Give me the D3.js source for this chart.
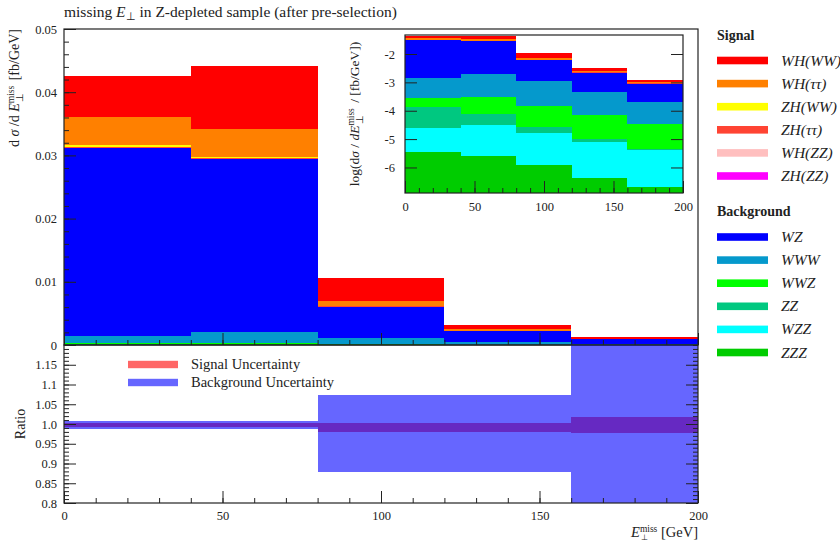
<!DOCTYPE html>
<html>
<head>
<meta charset="utf-8">
<script src="https://cdn.jsdelivr.net/npm/d3@7"></script>
<style>
body { margin: 0; background: #fff; }
svg { font-family: "Liberation Serif", serif; }
</style>
</head>
<body>
<div id="chart"></div>
<script>
// bins of missing E_T [GeV]
var binLo = [0, 40, 80, 120, 160];
var binHi = [40, 80, 120, 160, 200];

// signal, d sigma / dE [fb/GeV]
var WH_WW     = [0.0066, 0.00997, 0.00359, 0.000625, 0.0002];
var WH_tautau = [0.00437, 0.00437, 0.00075, 0.0002, 0.00006];
var ZH_WW     = [0.00035, 0.00025, 0.00008, 0.00004, 0.00002];
var ZH_tautau = [0.00012, 0.0001, 0.00004, 0.00002, 0.00001];
var WH_ZZ     = [0.00004, 0.00004, 0.00002, 0.00001, 0.000006];
var ZH_ZZ     = [0.00002, 0.00002, 0.00001, 0.000005, 0.000003];

// background
var WZ  = [0.0297, 0.02735, 0.00493, 0.00176, 0.00069];
var WWW = [0.00111, 0.00175, 0.00098, 0.000372, 0.000177];
var WWZ = [0.000158, 0.000221, 0.000122, 0.000058, 0.0000286];
var ZZ  = [0.000108, 0.000045, 0.00001, 0.0000024, 0.0000004];
var WZZ = [0.0000205, 0.0000284, 0.0000148, 0.0000072, 0.0000038];
var ZZZ = [0.0000035, 0.0000026, 0.0000012, 0.00000042, 0.00000021];

// ratio panel bands
var sigLo = [0.9924, 0.9924, 0.9805, 0.9805, 0.976];
var sigHi = [1.0033, 1.0033, 1.0033, 1.0033, 1.0177];
var bkgLo = [0.988, 0.988, 0.8775, 0.8775, 0.7];
var bkgHi = [1.0084, 1.0084, 1.074, 1.074, 1.3];

// tick labels
var yTicks = [0, 0.01, 0.02, 0.03, 0.04, 0.05];
var yTickLabels = ["0", "0.01", "0.02", "0.03", "0.04", "0.05"];
var rTicks = [0.8, 0.85, 0.9, 0.95, 1.0, 1.05, 1.1, 1.15];
var rTickLabels = ["0.8", "0.85", "0.9", "0.95", "1.0", "1.05", "1.1", "1.15"];
var xTicks = [0, 50, 100, 150, 200];
var logTicks = [-6, -5, -4, -3, -2];

var signal = [
  { key: "WH_WW", label: "WH(WW)", color: "#ff0000", values: WH_WW },
  { key: "WH_tautau", label: "WH(ττ)", color: "#ff8000", values: WH_tautau },
  { key: "ZH_WW", label: "ZH(WW)", color: "#ffff00", values: ZH_WW },
  { key: "ZH_tautau", label: "ZH(ττ)", color: "#ff4433", values: ZH_tautau },
  { key: "WH_ZZ", label: "WH(ZZ)", color: "#ffbfbf", values: WH_ZZ },
  { key: "ZH_ZZ", label: "ZH(ZZ)", color: "#ff00ff", values: ZH_ZZ }
];
var background = [
  { key: "WZ", label: "WZ", color: "#0000ff", values: WZ },
  { key: "WWW", label: "WWW", color: "#0599cc", values: WWW },
  { key: "WWZ", label: "WWZ", color: "#00ff00", values: WWZ },
  { key: "ZZ", label: "ZZ", color: "#00c880", values: ZZ },
  { key: "WZZ", label: "WZZ", color: "#00ffff", values: WZZ },
  { key: "ZZZ", label: "ZZZ", color: "#00cc00", values: ZZZ }
];

// stacking goes bottom to top, reverse of the legend
var all = background.concat(signal);
var order = background.slice().reverse().concat(signal.slice().reverse());
var color = {};
all.forEach(function (p) { color[p.key] = p.color; });

var rows = binLo.map(function (lo, i) {
  var r = { lo: lo, hi: binHi[i] };
  all.forEach(function (p) { r[p.key] = p.values[i]; });
  return r;
});
var layers = d3.stack().keys(order.map(function (p) { return p.key; }))(rows);

var svg = d3.select("#chart").append("svg")
  .attr("width", 840)
  .attr("height", 542);

var ink = "#222";

// scales
var x = d3.scaleLinear().domain([0, 200]).range([64, 698]);
var y = d3.scaleLinear().domain([0, 0.05]).range([345, 29]);
var yr = d3.scaleLinear().domain([0.8, 1.2]).range([503, 345]);
var xi = d3.scaleLinear().domain([0, 200]).range([405, 683]);
var yi = d3.scaleLinear().domain([-6.9, -1.33]).range([193, 35]);

function richText(sel, parts) {
  parts.forEach(function (p) {
    var t = sel.append("tspan").text(p.t);
    if (p.it) t.style("font-style", "italic");
    if (p.size) t.attr("font-size", p.size);
    if (p.dx) t.attr("dx", p.dx);
    if (p.dy) t.attr("dy", p.dy);
  });
}

function styleAxis(g, size) {
  g.attr("color", ink).attr("font-family", "Liberation Serif").attr("font-size", size || 12);
  g.select(".domain").remove();
  g.selectAll("text").attr("fill", ink);
}

// title
richText(svg.append("text").attr("x", 64).attr("y", 17).attr("font-size", 15.5).attr("fill", ink), [
  { t: "missing " }, { t: "E", it: true }, { t: "⊥", size: 10.5, dy: 3 },
  { t: " in Z-depleted sample (after pre-selection)", dy: -3 }
]);

// ---- main panel
var main = svg.append("g").attr("shape-rendering", "crispEdges");
layers.forEach(function (layer) {
  main.selectAll(null)
    .data(layer)
    .enter().append("rect")
    .attr("x", function (d) { return x(d.data.lo); })
    .attr("width", function (d) { return x(d.data.hi) - x(d.data.lo); })
    .attr("y", function (d) { return y(d[1]); })
    .attr("height", function (d) { return y(d[0]) - y(d[1]); })
    .attr("fill", color[layer.key]);
});

svg.append("g").attr("transform", "translate(64,0)")
  .call(d3.axisLeft(y).tickValues(yTicks).tickSizeInner(-12).tickSizeOuter(0).tickPadding(7)
    .tickFormat(function (d, i) { return yTickLabels[i]; }))
  .call(styleAxis, 12.5);
svg.append("g").attr("transform", "translate(64,0)")
  .call(d3.axisLeft(y).tickValues(d3.range(0, 0.0501, 0.002)).tickSize(-5).tickFormat(""))
  .call(styleAxis);
svg.append("g").attr("transform", "translate(0,345)")
  .call(d3.axisBottom(x).tickValues(xTicks).tickSize(-12).tickFormat(""))
  .call(styleAxis);
svg.append("g").attr("transform", "translate(0,345)")
  .call(d3.axisBottom(x).tickValues(d3.range(0, 201, 10)).tickSize(-5).tickFormat(""))
  .call(styleAxis);

svg.append("rect").attr("x", 64).attr("y", 29).attr("width", 634).attr("height", 316)
  .attr("fill", "none").attr("stroke", ink).attr("stroke-width", 1.2);

richText(svg.append("text").attr("transform", "translate(19,29) rotate(-90)")
  .attr("text-anchor", "end").attr("font-size", 14).attr("fill", ink), [
  { t: "d " }, { t: "σ", it: true }, { t: " /d " }, { t: "E", it: true },
  { t: "miss", size: 9.5, dy: -5 }, { t: "⊥", size: 9.5, dx: -16, dy: 9 },
  { t: " [fb/GeV]", dx: 9, dy: -4 }
]);

// ---- inset (log scale)
svg.append("clipPath").attr("id", "inset-clip").append("rect")
  .attr("x", 405).attr("y", 35).attr("width", 278).attr("height", 158);
var inset = svg.append("g").attr("clip-path", "url(#inset-clip)").attr("shape-rendering", "crispEdges");
layers.forEach(function (layer, li) {
  inset.selectAll(null)
    .data(layer)
    .enter().append("rect")
    .attr("x", function (d) { return xi(d.data.lo); })
    .attr("width", function (d) { return xi(d.data.hi) - xi(d.data.lo); })
    .attr("y", function (d) { return yi(Math.log10(d[1])); })
    .attr("height", function (d) {
      var bottom = li === 0 ? 193 : yi(Math.log10(d[0]));
      return Math.max(0, bottom - yi(Math.log10(d[1])));
    })
    .attr("fill", color[layer.key]);
});

svg.append("g").attr("transform", "translate(405,0)")
  .call(d3.axisLeft(yi).tickValues(logTicks).tickSizeInner(-12).tickSizeOuter(0).tickPadding(10)
    .tickFormat(function (d) { return "-" + Math.abs(d); }))
  .call(styleAxis, 12.5);
svg.append("g").attr("transform", "translate(683,0)")
  .call(d3.axisRight(yi).tickValues(logTicks).tickSize(-12).tickFormat(""))
  .call(styleAxis);
svg.append("g").attr("transform", "translate(0,193)")
  .call(d3.axisBottom(xi).tickValues(xTicks).tickSizeInner(-12).tickSizeOuter(0).tickPadding(9))
  .call(styleAxis, 12.5);
svg.append("g").attr("transform", "translate(0,193)")
  .call(d3.axisBottom(xi).tickValues(d3.range(0, 201, 10)).tickSize(-5).tickFormat(""))
  .call(styleAxis);
svg.append("rect").attr("x", 405).attr("y", 35).attr("width", 278).attr("height", 158)
  .attr("fill", "none").attr("stroke", ink).attr("stroke-width", 1.2);

richText(svg.append("text").attr("transform", "translate(359,114) rotate(-90)")
  .attr("text-anchor", "middle").attr("font-size", 13.5).attr("fill", ink), [
  { t: "log(d" }, { t: "σ", it: true }, { t: " / " }, { t: "dE", it: true },
  { t: "miss", size: 9.5, dy: -5 }, { t: "⊥", size: 9.5, dx: -16, dy: 9 },
  { t: " / [fb/GeV])", dx: 9, dy: -4 }
]);

// ---- ratio panel
svg.append("clipPath").attr("id", "ratio-clip").append("rect")
  .attr("x", 64).attr("y", 345).attr("width", 634).attr("height", 158);
var ratio = svg.append("g").attr("clip-path", "url(#ratio-clip)").attr("shape-rendering", "crispEdges");
ratio.selectAll(".sig")
  .data(binLo)
  .enter().append("rect")
  .attr("class", "sig")
  .attr("x", function (d) { return x(d); })
  .attr("width", function (d, i) { return x(binHi[i]) - x(d); })
  .attr("y", function (d, i) { return yr(sigHi[i]); })
  .attr("height", function (d, i) { return yr(sigLo[i]) - yr(sigHi[i]); })
  .attr("fill", "rgba(255,0,0,0.6)");
ratio.selectAll(".bkg")
  .data(binLo)
  .enter().append("rect")
  .attr("class", "bkg")
  .attr("x", function (d) { return x(d); })
  .attr("width", function (d, i) { return x(binHi[i]) - x(d); })
  .attr("y", function (d, i) { return yr(bkgHi[i]); })
  .attr("height", function (d, i) { return yr(bkgLo[i]) - yr(bkgHi[i]); })
  .attr("fill", "rgba(0,0,255,0.6)");

svg.append("g").attr("transform", "translate(64,0)")
  .call(d3.axisLeft(yr).tickValues(rTicks).tickSizeInner(-12).tickSizeOuter(0).tickPadding(7)
    .tickFormat(function (d, i) { return rTickLabels[i]; }))
  .call(styleAxis, 12.5);
svg.append("g").attr("transform", "translate(64,0)")
  .call(d3.axisLeft(yr).tickValues(d3.range(0.8, 1.2001, 0.01)).tickSize(-5).tickFormat(""))
  .call(styleAxis);
svg.append("g").attr("transform", "translate(698,0)")
  .call(d3.axisRight(yr).tickValues(rTicks).tickSize(-12).tickFormat(""))
  .call(styleAxis);
svg.append("g").attr("transform", "translate(698,0)")
  .call(d3.axisRight(yr).tickValues(d3.range(0.8, 1.2001, 0.01)).tickSize(-5).tickFormat(""))
  .call(styleAxis);
svg.append("g").attr("transform", "translate(0,503)")
  .call(d3.axisBottom(x).tickValues(xTicks).tickSizeInner(-12).tickSizeOuter(0).tickPadding(8))
  .call(styleAxis, 12.5);
svg.append("g").attr("transform", "translate(0,503)")
  .call(d3.axisBottom(x).tickValues(d3.range(0, 201, 10)).tickSize(-5).tickFormat(""))
  .call(styleAxis);
svg.append("rect").attr("x", 64).attr("y", 345).attr("width", 634).attr("height", 158)
  .attr("fill", "none").attr("stroke", ink).attr("stroke-width", 1.2);

svg.append("text").attr("transform", "translate(25,424) rotate(-90)")
  .attr("text-anchor", "middle").attr("font-size", 14).attr("fill", ink).text("Ratio");

richText(svg.append("text").attr("x", 698).attr("y", 536.5)
  .attr("text-anchor", "end").attr("font-size", 14.5).attr("fill", ink), [
  { t: "E", it: true }, { t: "miss", size: 9.5, dy: -4.5 }, { t: "⊥", size: 8, dx: -16, dy: 8 },
  { t: " [GeV]", dx: 9, dy: -3.5 }
]);

// ratio legend
var rLegend = [
  { label: "Signal Uncertainty", color: "rgba(255,0,0,0.6)", y: 364.5 },
  { label: "Background Uncertainty", color: "rgba(0,0,255,0.6)", y: 382.5 }
];
rLegend.forEach(function (d) {
  svg.append("rect").attr("x", 128).attr("y", d.y - 3.7).attr("width", 50).attr("height", 7.4)
    .attr("fill", d.color);
  svg.append("text").attr("x", 191).attr("y", d.y + 4.5).attr("font-size", 14.5)
    .attr("fill", ink).text(d.label);
});

// ---- legend
function legendBlock(title, items, y0) {
  svg.append("text").attr("x", 717).attr("y", y0).attr("font-size", 14)
    .attr("font-weight", "bold").attr("fill", ink).text(title);
  items.forEach(function (p, i) {
    var cy = y0 + 21 + i * 23.1;
    svg.append("rect").attr("x", 717).attr("y", cy - 3.8).attr("width", 51).attr("height", 7.6)
      .attr("fill", p.color);
    svg.append("text").attr("x", 781).attr("y", cy + 5).attr("font-size", 15.5)
      .style("font-style", "italic").attr("fill", ink).text(p.label);
  });
}
legendBlock("Signal", signal, 39.5);
legendBlock("Background", background, 216);
</script>
</body>
</html>
